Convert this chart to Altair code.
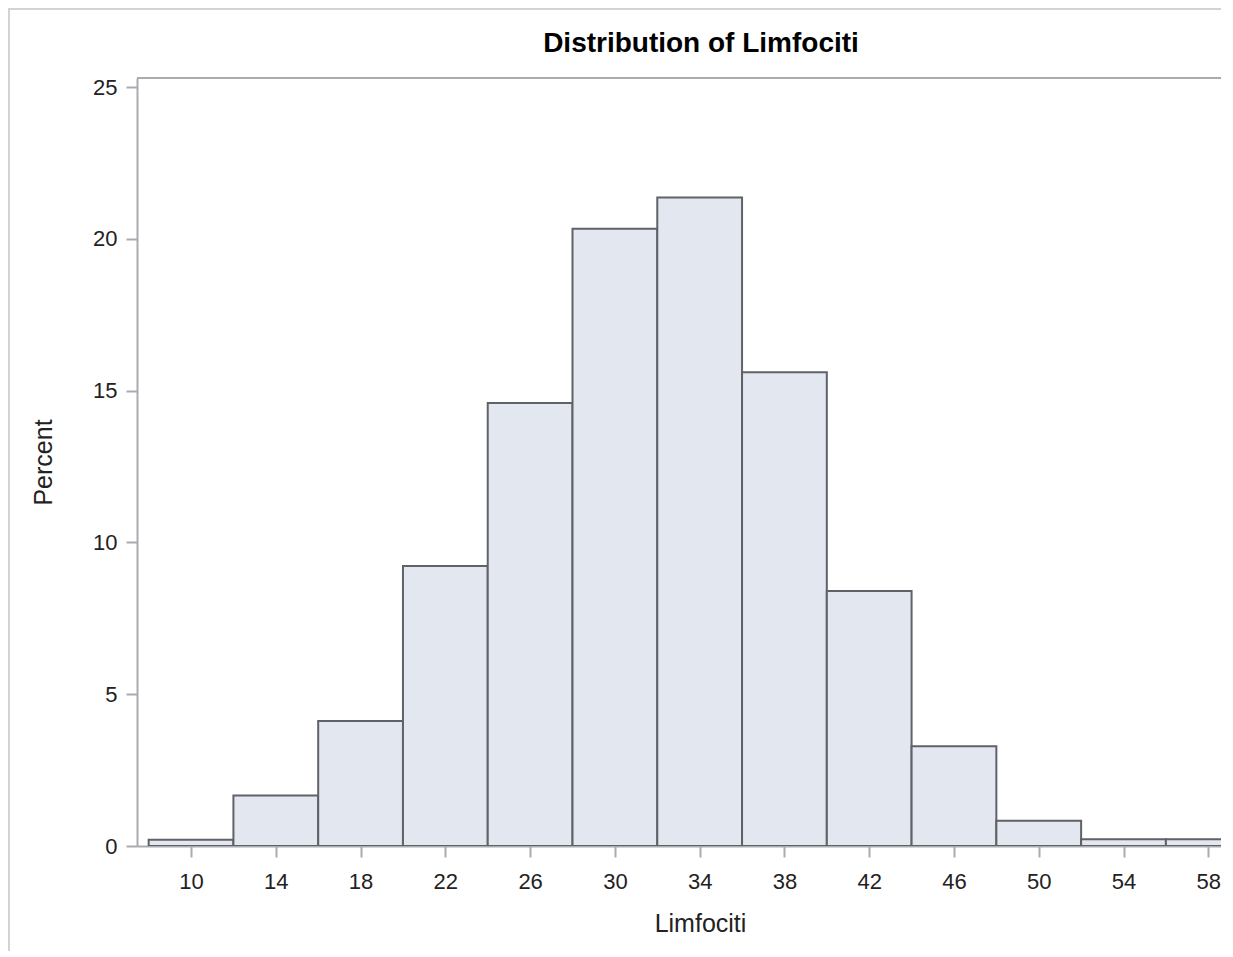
import altair as alt
import pandas as pd

# Histogram bins (Limfociti) and their percentages
bin_start = [8, 12, 16, 20, 24, 28, 32, 36, 40, 44, 48, 52, 56]
bin_end = [12, 16, 20, 24, 28, 32, 36, 40, 44, 48, 52, 56, 60]
percent = [0.21, 1.66, 4.12, 9.22, 14.59, 20.33, 21.36, 15.61, 8.40, 3.29, 0.83, 0.22, 0.22]

x_ticks = [10, 14, 18, 22, 26, 30, 34, 38, 42, 46, 50, 54, 58]
y_ticks = [0, 5, 10, 15, 20, 25]

df = pd.DataFrame({"start": bin_start, "end": bin_end, "percent": percent})

W, H = 1084, 768
FONT = "Liberation Sans"
AX = "#a8abaf"

bars = alt.Chart(df).mark_bar(
    fill="#e3e7f0", stroke="#5f6266", strokeWidth=2, clip=True
).encode(
    x=alt.X(
        "start:Q",
        scale=alt.Scale(domain=[7.45, 58.6], nice=False, zero=False),
        axis=alt.Axis(
            values=x_ticks, title="Limfociti", grid=False,
            domainColor=AX, domainWidth=2, tickColor=AX, tickWidth=2, tickSize=11,
            labelFont=FONT, labelFontSize=22, labelColor="#222", labelPadding=14,
            labelFlush=False, labelOverlap=False,
            titleFont=FONT, titleFontSize=25, titleFontWeight="normal", titleColor="#222",
            titleX=563, titleY=85, titleBaseline="alphabetic", titleAlign="center",
        ),
    ),
    x2="end:Q",
    y=alt.Y(
        "percent:Q",
        scale=alt.Scale(domain=[0, 25.3], nice=False),
        axis=alt.Axis(
            values=y_ticks, title="Percent", grid=False,
            domainColor=AX, domainWidth=2, tickColor=AX, tickWidth=2, tickSize=11,
            labelFont=FONT, labelFontSize=22, labelColor="#222", labelPadding=9,
            titleFont=FONT, titleFontSize=25, titleFontWeight="normal", titleColor="#222",
            titleAngle=270, titleX=-86, titleY=384, titleBaseline="alphabetic", titleAlign="center",
        ),
    ),
    y2=alt.datum(0),
)

deco = pd.DataFrame({"a": [0]})
top_border = alt.Chart(deco).mark_rule(color=AX, strokeWidth=2).encode(
    x=alt.value(0), x2=alt.value(W), y=alt.value(0)
)
frame_left = alt.Chart(deco).mark_rule(color="#d3d3d3", strokeWidth=2).encode(
    x=alt.value(-128), y=alt.value(-69), y2=alt.value(H + 110)
)
frame_top = alt.Chart(deco).mark_rule(color="#d3d3d3", strokeWidth=2).encode(
    x=alt.value(-129), x2=alt.value(W), y=alt.value(-69)
)

chart = alt.layer(frame_left, frame_top, bars, top_border).properties(
    width=W, height=H,
    autosize=alt.AutoSizeParams(type="none"),
    padding={"left": 129, "top": 70, "right": 0, "bottom": 105},
    title=alt.TitleParams(
        "Distribution of Limfociti", font=FONT, fontSize=28, fontWeight="bold",
        color="#000", anchor="middle", dx=22, dy=72, baseline="alphabetic", offset=0,
    ),
).configure_view(stroke=None)

chart.save("out.html", embed_options={"renderer": "svg", "actions": False})
